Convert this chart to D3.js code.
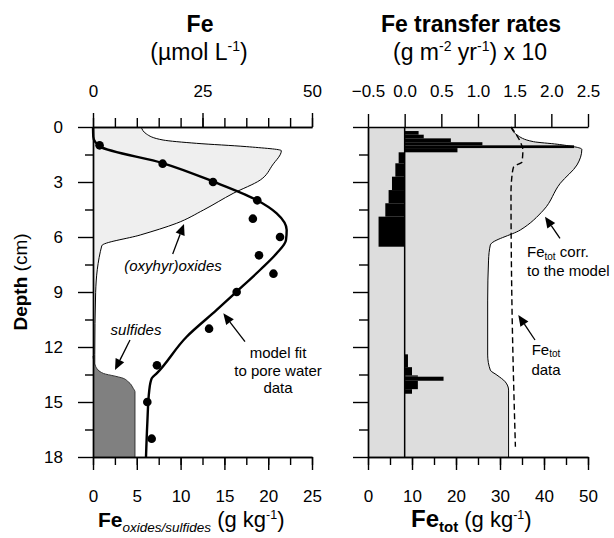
<!DOCTYPE html>
<html><head><meta charset="utf-8">
<script src="https://cdn.jsdelivr.net/npm/d3@7"></script>
<style>body{margin:0;background:#fff} svg{display:block;font-family:"Liberation Sans",Arial,Helvetica,sans-serif}</style>
</head><body><svg id="c" width="614" height="538"></svg>
<script>
// ---------- data ----------
// Left panel: pore-water Fe (µmol/L) measured points
const poreDepth = [1,2,3,4,5,6,7,8,9,11,13,15,17];
const poreFe    = [1.5,15.9,27.4,37.5,36.5,42.7,37.9,41.2,32.8,26.5,14.6,12.4,13.4];
// model fit (µmol/L)
const fitDepth = [0,0.53,0.8,1.07,1.98,2.98,3.98,4.71,5.62,6.17,6.89,7.8,8.98,9.98,11.44,13.44,13.71,14.35,16.16,18];
const fitFe    = [0,0.07,0.46,1.6,16.05,27.47,37.37,41.94,44.22,44.06,41.94,38.13,32.8,28.24,21.39,14.54,13.4,12.85,12.4,12.1];
// Fe (oxyhydr)oxides (g/kg)
const oxDepth = [0,0.38,0.71,0.89,1.07,1.29,2.07,2.89,3.62,4.53,5.25,5.89,6.48,9.04,12.4,18];
const oxFe    = [5.5,6.1,8.0,11.8,17.5,21.5,20.5,19.1,16.0,12.6,9.55,5.4,1.0,0.3,0.2,0.2];
// Fe sulfides (g/kg)
const sulDepth = [12.5,13.07,13.44,13.59,13.68,13.9,14.26,14.44,18];
const sulFe    = [0,0.31,1.18,2.51,3.28,4.03,4.6,4.79,4.79];
// Right panel: Fe_tot corrected to the model (g/kg)
const corrDepth = [0,0.44,0.8,0.94,1.22,2.07,3.07,4.53,5.62,6.44,7.26,9.44,12.44,13.26,13.53,13.9,14.35,18];
const corrFe    = [32.5,33.9,37.6,43.0,48.6,47.5,43.7,39.9,34.6,27.8,27.4,27.2,27.2,27.8,29.3,31.2,31.95,31.95];
// Fe_tot data (g/kg)
const totDepth = [0,0.8,1.25,1.9,2.17,2.71,3.62,9.44,17.44];
const totFe    = [32.5,34.6,35.2,35.0,33.1,32.7,32.5,32.7,33.5];
// Fe transfer rates (g m-2 yr-1 x10): depth intervals
const rateTop    = [0.22,0.42,0.62,0.83,1.0,1.15, 1.38,1.98,2.71,3.44,4.16,4.89, 12.4,13.1,13.55,13.62,13.84,14.3];
const rateBottom = [0.42,0.62,0.83,1.0,1.15,1.38, 1.98,2.71,3.44,4.16,4.89,6.53, 13.1,13.55,13.62,13.84,14.3,14.55];
const rateValue  = [0.19,0.26,0.63,1.06,2.31,0.72, -0.082,-0.127,-0.173,-0.219,-0.264,-0.356, 0.045,0.10,0.18,0.53,0.18,0.10];
// ticks
const depthMajor = [0,3,6,9,12,15,18];
const depthMinor = [1.5,4.5,7.5,10.5,13.5,16.5];
const leftTopMajor = [0,25,50];
const leftBotMajor = [0,5,10,15,20,25];
const rightTopTicks = [-0.5,0,0.5,1,1.5,2,2.5];
const rightBotMajor = [0,10,20,30,40,50];

// ---------- scales ----------
const svg = d3.select("#c");
const y = d3.scaleLinear().domain([0,18]).range([127,457]);
const xL = d3.scaleLinear().domain([0,25]).range([93,312]);
const xLTop = d3.scaleLinear().domain([0,50]).range([93,312]);
const xR = d3.scaleLinear().domain([0,50]).range([368,588]);
const xRTop = d3.scaleLinear().domain([-0.5,2.5]).range([368,588]);

const zip = (a,b)=>a.map((d,i)=>[d,b[i]]);

// ---------- left panel ----------
const ox = zip(oxDepth, oxFe);
svg.append("path").attr("d", d3.area().curve(d3.curveMonotoneY)
    .y(d=>y(d[0])).x0(xL(0)).x1(d=>xL(d[1]))(ox))
  .attr("fill","#efefef");
svg.append("path").attr("d", d3.line().curve(d3.curveMonotoneY)
    .y(d=>y(d[0])).x(d=>xL(d[1]))(ox))
  .attr("fill","none").attr("stroke","#000").attr("stroke-width",1);

const sul = zip(sulDepth, sulFe);
svg.append("path").attr("d", d3.area().curve(d3.curveMonotoneY)
    .y(d=>y(d[0])).x0(xL(0)).x1(d=>xL(d[1]))(sul))
  .attr("fill","#808080");
svg.append("path").attr("d", d3.line().curve(d3.curveMonotoneY)
    .y(d=>y(d[0])).x(d=>xL(d[1]))(sul))
  .attr("fill","none").attr("stroke","#333").attr("stroke-width",1);

svg.append("path").attr("d", d3.line().curve(d3.curveMonotoneY)
    .y(d=>y(d[0])).x(d=>xLTop(d[1]))(zip(fitDepth, fitFe)))
  .attr("fill","none").attr("stroke","#000").attr("stroke-width",2.4);

svg.selectAll("circle.pw").data(zip(poreDepth, poreFe)).join("circle")
  .attr("cx",d=>xLTop(d[1])).attr("cy",d=>y(d[0])).attr("r",4.3).attr("fill","#000");

// ---------- right panel ----------
const corr = zip(corrDepth, corrFe);
svg.append("path").attr("d", d3.area().curve(d3.curveMonotoneY)
    .y(d=>y(d[0])).x0(xR(0)).x1(d=>xR(d[1]))(corr))
  .attr("fill","#dddddd");
svg.append("path").attr("d", d3.line().curve(d3.curveMonotoneY)
    .y(d=>y(d[0])).x(d=>xR(d[1]))(corr))
  .attr("fill","none").attr("stroke","#000").attr("stroke-width",1);

svg.append("path").attr("d", d3.line().curve(d3.curveMonotoneY)
    .y(d=>y(d[0])).x(d=>xR(d[1]))(zip(totDepth, totFe)))
  .attr("fill","none").attr("stroke","#000").attr("stroke-width",1.4)
  .attr("stroke-dasharray","6,3.5");

svg.selectAll("rect.rate").data(rateValue.map((v,i)=>({t:rateTop[i],b:rateBottom[i],v}))).join("rect")
  .attr("x",d=>Math.min(xRTop(0),xRTop(d.v))).attr("width",d=>Math.abs(xRTop(d.v)-xRTop(0)))
  .attr("y",d=>y(d.t)).attr("height",d=>y(d.b)-y(d.t)).attr("fill","#000");
svg.append("line").attr("x1",xRTop(0)).attr("x2",xRTop(0)).attr("y1",y(0)).attr("y2",y(18))
  .attr("stroke","#000").attr("stroke-width",1.5);

// ---------- axes ----------
function ax(g, axis){
  const s = svg.append("g").attr("transform",g).call(axis);
  s.selectAll("path,line").attr("stroke","#000").attr("stroke-width",1.4);
  s.selectAll("text").attr("font-family",'"Liberation Sans",Arial,sans-serif').attr("font-size",17).attr("fill","#000");
  return s;
}
// left panel
ax(`translate(0,${y(0)})`, d3.axisTop(xLTop).tickValues(d3.range(0,51,5)).tickSize(9).tickSizeOuter(0).tickFormat(""));
ax(`translate(0,${y(0)})`, d3.axisTop(xLTop).tickValues(leftTopMajor).tickSize(14).tickSizeOuter(0).tickPadding(16));
ax(`translate(0,${y(18)})`, d3.axisBottom(xL).tickValues(d3.range(0,25.1,2.5)).tickSize(8).tickSizeOuter(0).tickFormat(""));
ax(`translate(0,${y(18)})`, d3.axisBottom(xL).tickValues(leftBotMajor).tickSize(13).tickSizeOuter(0).tickPadding(20));
ax(`translate(${xL(0)},0)`, d3.axisLeft(y).tickValues(depthMinor).tickSize(8).tickSizeOuter(0).tickFormat(""));
ax(`translate(${xL(0)},0)`, d3.axisLeft(y).tickValues(depthMajor).tickSize(15).tickSizeOuter(0).tickPadding(15));
// right panel
ax(`translate(0,${y(0)})`, d3.axisTop(xRTop).tickValues(rightTopTicks).tickSize(13).tickSizeOuter(0).tickPadding(17.3));
ax(`translate(0,${y(18)})`, d3.axisBottom(xR).tickValues(d3.range(0,51,5)).tickSize(8).tickSizeOuter(0).tickFormat(""));
ax(`translate(0,${y(18)})`, d3.axisBottom(xR).tickValues(rightBotMajor).tickSize(13).tickSizeOuter(0).tickPadding(20));
ax(`translate(${xR(0)},0)`, d3.axisLeft(y).tickValues(depthMinor).tickSize(9).tickSizeOuter(0).tickFormat(""));
ax(`translate(${xR(0)},0)`, d3.axisLeft(y).tickValues(depthMajor).tickSize(15).tickSizeOuter(0).tickFormat(""));

// ---------- text ----------
function txt(x,yy,parts,anchor="middle"){
  const t = svg.append("text").attr("x",x).attr("y",yy).attr("text-anchor",anchor).attr("fill","#000");
  parts.forEach(p=>{
    const s = t.append("tspan").text(p.t).attr("font-size",p.s);
    if(p.w) s.attr("font-weight",p.w);
    if(p.i) s.attr("font-style","italic");
    if(p.dy) s.attr("dy",p.dy);
  });
  return t;
}
txt(200,32,[{t:"Fe",s:23,w:"bold"}]);
txt(199,60,[{t:"(µmol L",s:23},{t:"-1",s:14,dy:-9},{t:")",s:23,dy:9}]);
txt(471,32,[{t:"Fe transfer rates",s:23,w:"bold"}]);
txt(470,60,[{t:"(g m",s:23},{t:"-2",s:14,dy:-9},{t:" yr",s:23,dy:9},{t:"-1",s:14,dy:-9},{t:") x 10",s:23,dy:9}]);

txt(27,282,[{t:"Depth",s:19,w:"bold"},{t:" (cm)",s:19}]).attr("transform","rotate(-90,27,282)");

txt(98,527,[{t:"Fe",s:21,w:"bold"},{t:"oxides/sulfides",s:13.5,i:true,dy:5},{t:" (g kg",s:22,dy:-5},{t:"-1",s:12.5,dy:-8},{t:")",s:22,dy:8}],"start");
txt(411,527,[{t:"Fe",s:24,w:"bold"},{t:"tot",s:15,w:"bold",dy:5},{t:" (g kg",s:22,dy:-5},{t:"-1",s:12.5,dy:-8},{t:")",s:22,dy:8}],"start");

// annotations
txt(173,271,[{t:"(oxyhyr)oxides",s:15,i:true}]);
txt(136,335,[{t:"sulfides",s:15,i:true}]);
txt(278,358,[{t:"model fit",s:15}]);
txt(278,376,[{t:"to pore water",s:15}]);
txt(278,393,[{t:"data",s:15}]);
txt(527,257,[{t:"Fe",s:15},{t:"tot",s:10,dy:2.5},{t:" corr.",s:15,dy:-2.5}],"start");
txt(527,275.5,[{t:"to the model",s:15}],"start");
txt(546,354.5,[{t:"Fe",s:15},{t:"tot",s:10,dy:2.5}]);
txt(546,374.5,[{t:"data",s:15}]);

function arrow(x1,y1,x2,y2){
  const a = Math.atan2(y2-y1,x2-x1), L=11, W=4.8;
  const bx = x2 - L*Math.cos(a), by = y2 - L*Math.sin(a);
  svg.append("line").attr("x1",x1).attr("y1",y1).attr("x2",bx).attr("y2",by).attr("stroke","#000").attr("stroke-width",1.3);
  const px = -Math.sin(a)*W, py = Math.cos(a)*W;
  svg.append("path").attr("d",`M${x2},${y2}L${bx+px},${by+py}L${bx-px},${by-py}Z`).attr("fill","#000");
}
arrow(172.7,254,184,224);
arrow(130,340,115,370);
arrow(245,341.7,223.3,313.3);
arrow(560,238.3,545,216.7);
arrow(535,340,518.3,315);
</script></body></html>
